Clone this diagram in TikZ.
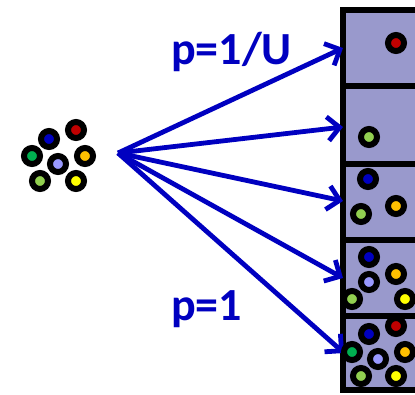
\documentclass[tikz,border=0pt]{standalone}
\usepackage{fontspec}
\setmainfont{Carlito}
\usetikzlibrary{arrows.meta}
\definecolor{cred}{RGB}{192,0,0}
\definecolor{cblue}{RGB}{0,0,192}
\definecolor{cgreen}{RGB}{0,176,80}
\definecolor{clav}{RGB}{153,153,255}
\definecolor{corange}{RGB}{255,192,0}
\definecolor{clgreen}{RGB}{146,208,80}
\definecolor{cyellow}{RGB}{255,255,0}
\definecolor{panel}{RGB}{153,153,204}
\definecolor{arrowblue}{RGB}{0,0,192}
\tikzset{
  ball/.style={circle,draw=black,line width=6pt,fill=#1,inner sep=0pt,minimum size=16pt},
  arr/.style={draw=arrowblue,line width=4.8pt,-{Straight Barb[length=12pt,width=24pt,line width=4.8pt]}},
  lbl/.style={text=arrowblue,font=\bfseries\fontsize{46}{46}\selectfont,inner sep=0pt,anchor=base west},
  divider/.style={line width=6pt,draw=black}
}
\begin{document}
\begin{tikzpicture}[x=1pt,y=-1pt]
\useasboundingbox (0,0) rectangle (415,394);
\clip (0,0) rectangle (415,394);
% panel
\fill[panel] (343,10) rectangle (430,390);
\draw[line width=6pt] (430,10) -- (343,10) -- (343,390) -- (430,390);
\draw[divider] (343,86) -- (430,86);
\draw[divider] (343,164) -- (430,164);
\draw[divider] (343,240) -- (430,240);
\draw[divider] (343,316) -- (430,316);
% left cluster
\node[ball=cred] (a1) at (76,130) {};
\node[ball=cblue] (a2) at (49,139) {};
\node[ball=cgreen] (a3) at (32,156) {};
\node[ball=clav] (a4) at (58,164) {};
\node[ball=corange] (a5) at (85,156) {};
\node[ball=clgreen] (a6) at (40,181) {};
\node[ball=cyellow] (a7) at (76,181) {};
% arrows
\coordinate (src) at (118,153);
\coordinate (t1) at (343,48);
\coordinate (t2) at (343,127);
\coordinate (t3) at (343,201);
\coordinate (t4) at (343,278);
\coordinate (t5) at (344,353);
\draw[arr] (src) -- (t1);
\draw[arr] (src) -- (t2);
\draw[arr] (src) -- (t3);
\draw[arr] (src) -- (t4);
\draw[arr] (src) -- (t5);
% labels
\node[lbl] (pu) at (171,64) {p=1/U};
\node[lbl] (p1) at (171,320) {p=1};
% box 1
\node[ball=cred] (b1) at (396,43) {};
% box 2
\node[ball=clgreen] (c1) at (369,137) {};
% box 3
\node[ball=cblue] (d1) at (368,179) {};
\node[ball=clgreen] (d2) at (361,214) {};
\node[ball=corange] (d3) at (396,206) {};
% box 4
\node[ball=cblue] (e1) at (369,257) {};
\node[ball=corange] (e2) at (396,274) {};
\node[ball=clav] (e3) at (369,282) {};
\node[ball=clgreen] (e4) at (352,299) {};
\node[ball=cyellow] (e5) at (405,299) {};
% box 5
\node[ball=cred] (f1) at (396,326) {};
\node[ball=cblue] (f2) at (369,334) {};
\node[ball=cgreen] (f3) at (352,352) {};
\node[ball=corange] (f4) at (405,352) {};
\node[ball=clav] (f5) at (378,359) {};
\node[ball=clgreen] (f6) at (361,376) {};
\node[ball=cyellow] (f7) at (396,376) {};
\end{tikzpicture}
\end{document}
